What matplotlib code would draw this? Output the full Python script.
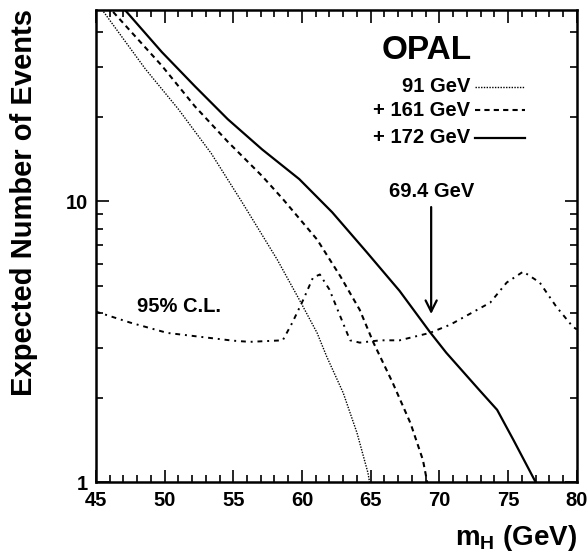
import numpy as np
import matplotlib
matplotlib.use("Agg")
from matplotlib import pyplot as plt
from matplotlib.ticker import LogLocator, FixedLocator, MultipleLocator, NullFormatter, FixedFormatter

plt.rcParams['font.family'] = ['Liberation Sans', 'DejaVu Sans']
plt.rcParams['font.weight'] = 'bold'
plt.rcParams['mathtext.fontset'] = 'custom'
plt.rcParams['mathtext.rm'] = 'Liberation Sans:bold'
plt.rcParams['mathtext.bf'] = 'Liberation Sans:bold'
plt.rcParams['mathtext.it'] = 'Liberation Sans:bold'

# expected number of signal events vs Higgs mass
m_91 = [45.2, 48.6, 51.0, 53.4, 55.6, 58.2, 59.8, 61.1, 61.8, 63.0, 64.0, 64.8, 64.95]
n_91 = [50.0, 29.6, 21.3, 14.8, 10.0, 6.2, 4.47, 3.4, 2.8, 2.08, 1.5, 1.08, 0.98]

m_161 = [45.8, 49.8, 52.2, 54.6, 57.1, 58.6, 61.1, 62.8, 64.2, 65.2, 66.6, 67.9, 68.8, 69.15]
n_161 = [50.0, 30.4, 21.8, 16.3, 12.3, 10.2, 7.31, 5.4, 4.11, 3.14, 2.26, 1.62, 1.2, 0.98]

m_172 = [46.8, 49.8, 52.2, 54.6, 57.1, 59.8, 62.2, 64.7, 67.1, 69.3, 70.5, 72.9, 74.2, 75.4, 77.1]
n_172 = [50.0, 34.0, 25.7, 19.6, 15.3, 12.0, 9.14, 6.6, 4.8, 3.43, 2.89, 2.13, 1.81, 1.41, 0.98]

# 95% CL upper limit on number of events
m_cl = [45, 47.5, 50.2, 55.0, 56.2, 58.6, 59.3, 60.1, 60.8, 61.3, 62.0, 62.8, 63.5,
        64.2, 65.7, 67.1, 69.3, 70.8, 71.7, 73.7, 74.9, 76.1, 77.3, 78.5, 79.7, 80.0]
n_cl = [4.05, 3.7, 3.4, 3.19, 3.16, 3.2, 3.7, 4.47, 5.35, 5.49, 4.85, 3.88, 3.2,
        3.14, 3.2, 3.2, 3.4, 3.64, 3.85, 4.36, 5.14, 5.62, 5.14, 4.22, 3.58, 3.5]

limit_mass = 69.4

fig = plt.figure(figsize=(5.88, 5.53), dpi=100)
ax = fig.add_axes([0.163, 0.128, 0.818, 0.854])

ax.plot(m_91, n_91, color='black', lw=1.0, ls=(0, (1, 1)))
ax.plot(m_161, n_161, color='black', lw=1.5, ls=(0, (2.5, 2)))
ax.plot(m_172, n_172, color='black', lw=1.6, ls='-')
ax.plot(m_cl, n_cl, color='black', lw=1.4, ls=(0, (2.5, 2.5, 1, 2.5)))

ax.set_yscale('log')
ax.set_xlim(45, 80)
ax.set_ylim(1, 48)

ax.xaxis.set_major_locator(MultipleLocator(5))
ax.xaxis.set_minor_locator(MultipleLocator(1))
ax.yaxis.set_major_locator(FixedLocator([1, 10]))
ax.yaxis.set_major_formatter(FixedFormatter(['1', '10']))
ax.yaxis.set_minor_locator(LogLocator(base=10, subs=np.arange(2, 10)))
ax.yaxis.set_minor_formatter(NullFormatter())
ax.tick_params(which='both', direction='in', top=True, right=True, width=1.2)
ax.tick_params(which='major', length=9, labelsize=14.5, pad=6)
ax.tick_params(which='minor', length=5)
for s in ax.spines.values():
    s.set_linewidth(1.8)

# legend drawn by hand
ax.text(0.688, 0.915, 'OPAL', transform=ax.transAxes, ha='center', va='center',
        fontsize=24, fontweight='bold')
labels = ['91 GeV', '+ 161 GeV', '+ 172 GeV']
styles = [((0, (1, 1)), 1.0), ((0, (2.5, 2)), 1.5), ('-', 1.6)]
ys = [0.837, 0.788, 0.729]
for lab, (ls, lw), yy in zip(labels, styles, ys):
    ax.text(0.778, yy, lab, transform=ax.transAxes, ha='right', va='center', fontsize=14.5)
    ax.plot([0.788, 0.892], [yy, yy], transform=ax.transAxes, color='black', ls=ls, lw=lw)

ax.annotate('', xy=(limit_mass, 3.88), xytext=(limit_mass, 9.76),
            arrowprops=dict(arrowstyle='->', color='black', lw=1.6, mutation_scale=20))
ax.text(limit_mass, 10.8, '69.4 GeV', ha='center', va='center', fontsize=14.5)
ax.text(48.0, 4.22, '95% C.L.', ha='left', va='center', fontsize=14.5)

fig.text(24 / 588, 1 - 203 / 553, 'Expected Number of Events', rotation=90,
         ha='center', va='center', fontsize=21, fontweight='bold')
fig.text(577 / 588, 1 - 545 / 553, r'$\mathbf{m_H}$ (GeV)', ha='right', va='baseline',
         fontsize=20, fontweight='bold')

fig.savefig('out.png', dpi=100)
